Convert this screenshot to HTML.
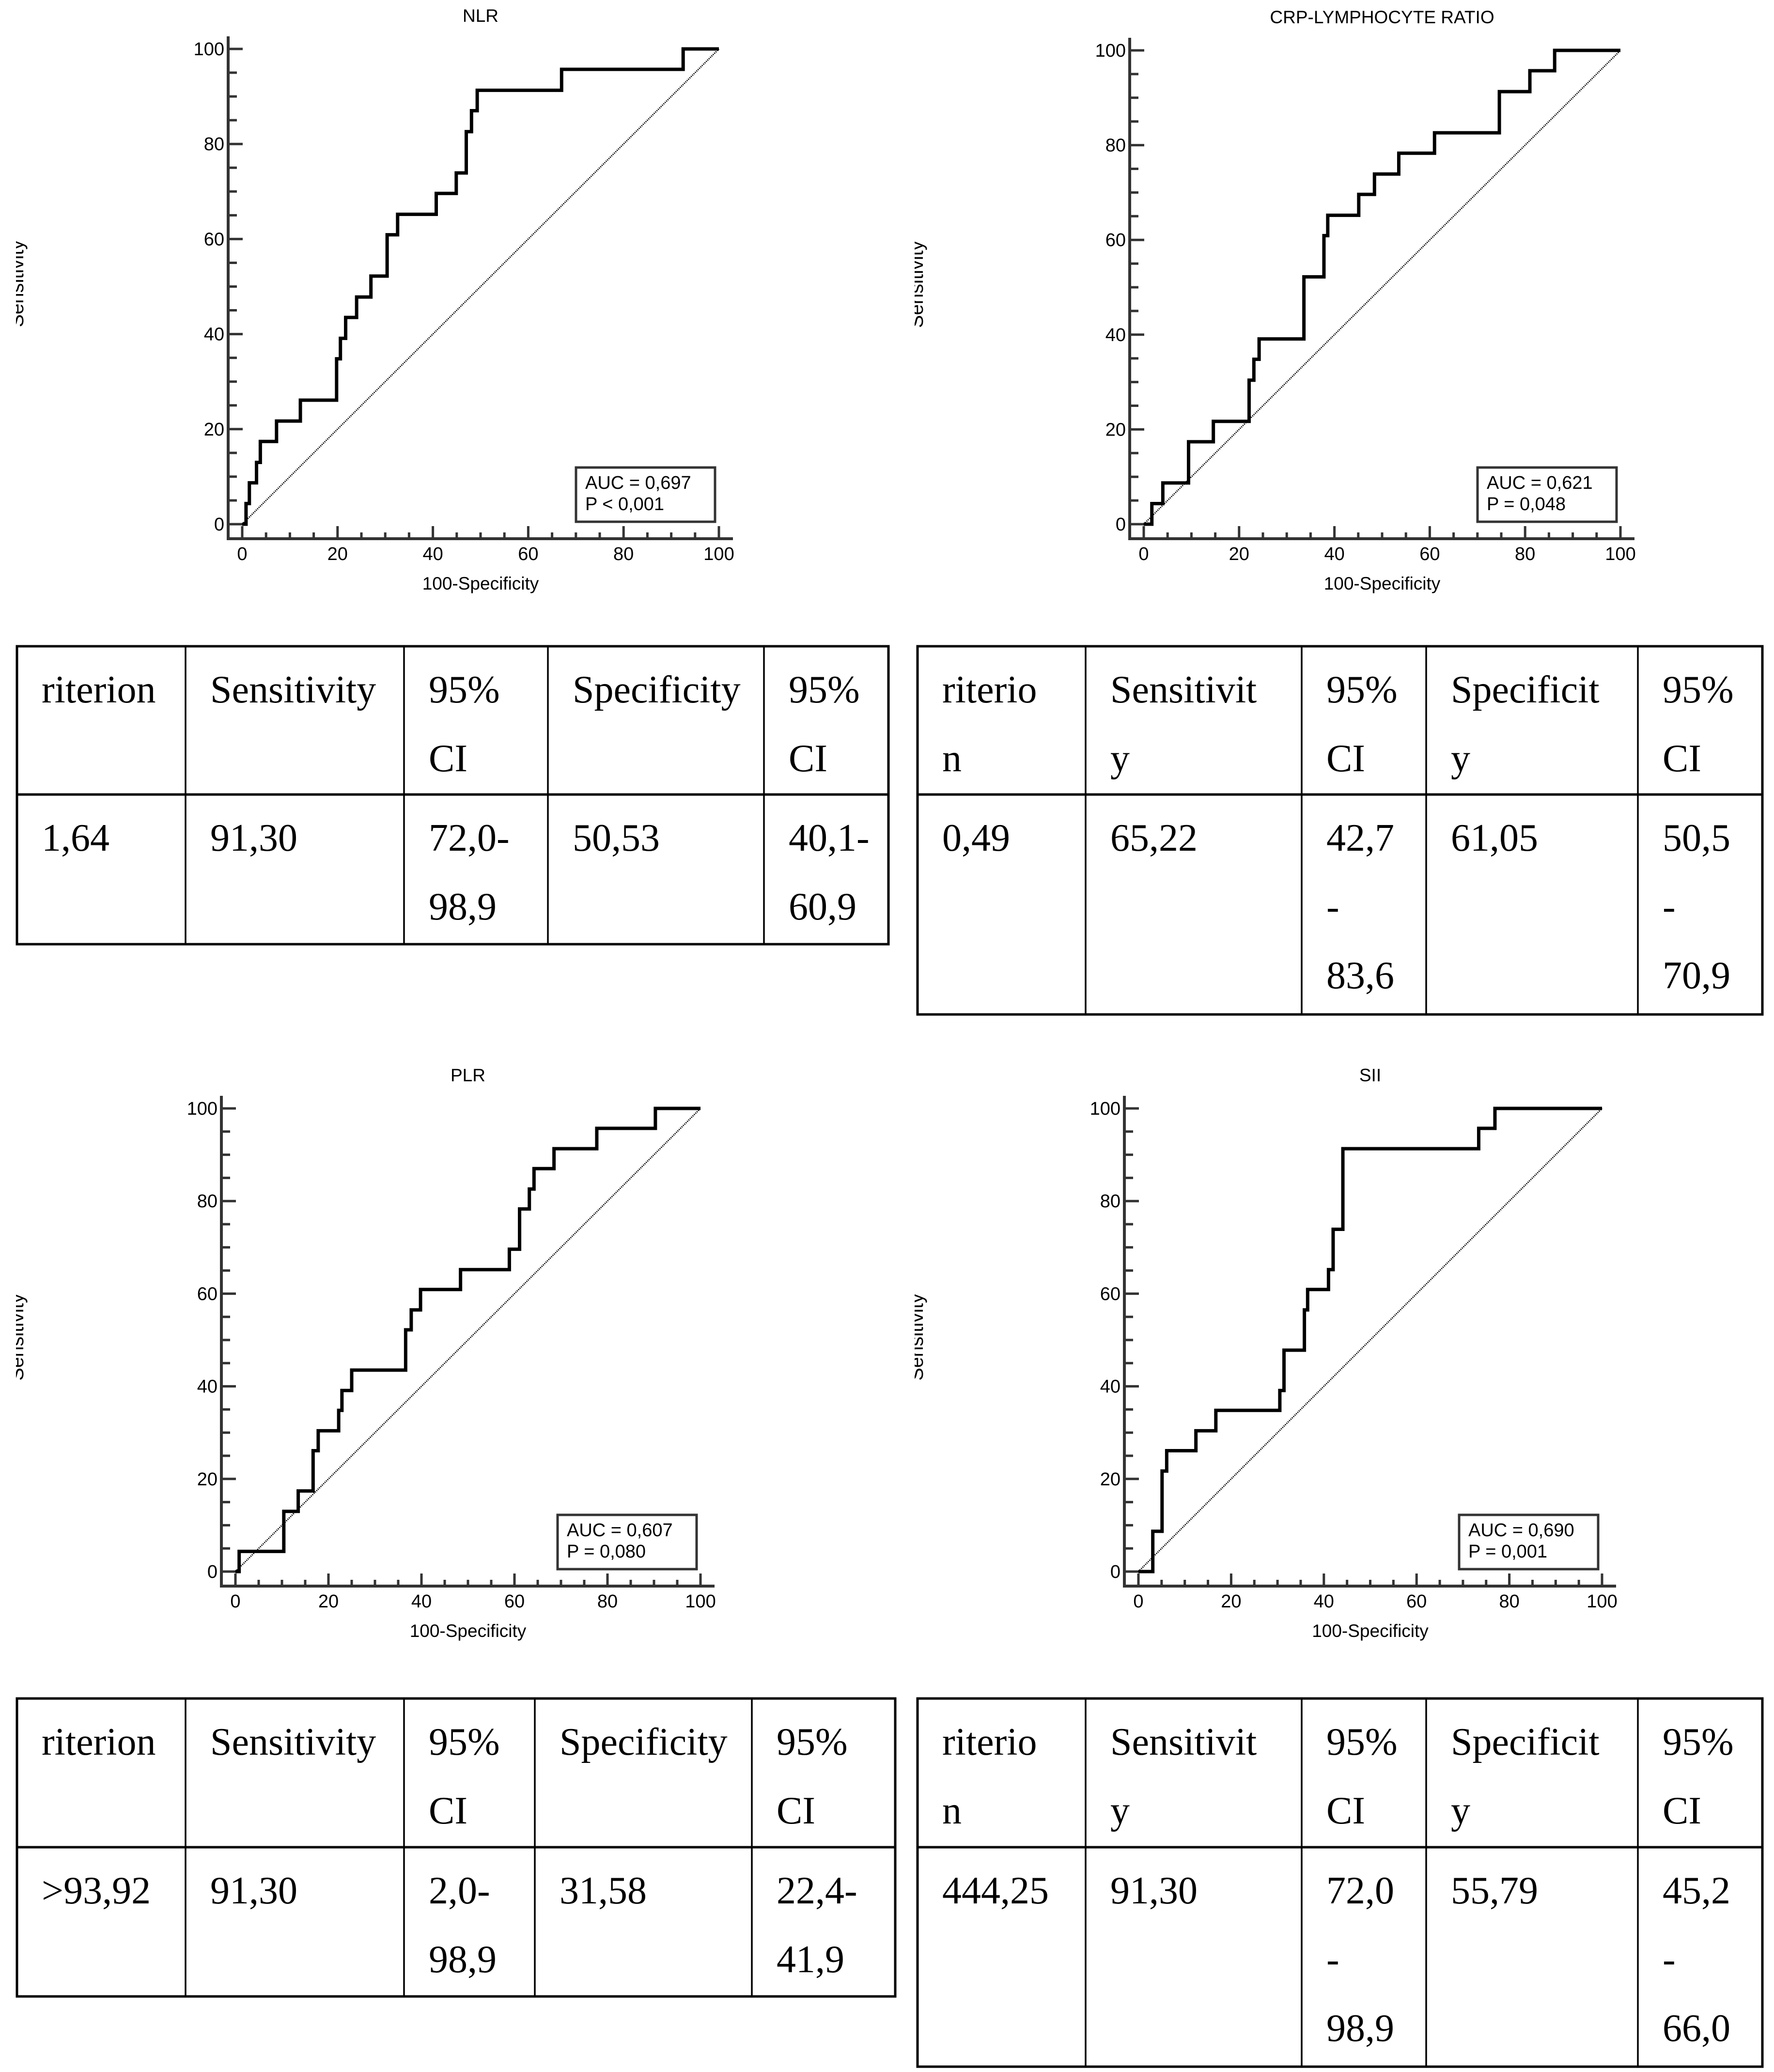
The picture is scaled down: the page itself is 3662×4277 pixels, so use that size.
<!DOCTYPE html>
<html><head><meta charset="utf-8">
<style>
html,body{margin:0;padding:0;background:#fff;}
svg{display:block;}
.tk{font-family:"Liberation Sans",Arial,sans-serif;font-size:38px;fill:#000;}
.tt{font-family:"Liberation Sans",Arial,sans-serif;font-size:37px;fill:#000;}
.tb{font-family:"Liberation Serif","Times New Roman",serif;font-size:80px;fill:#000;}
</style></head>
<body>
<svg id="root" width="3662" height="4277" viewBox="0 0 3662 4277" xmlns="http://www.w3.org/2000/svg">
<rect x="0" y="0" width="3662" height="4277" fill="#fff"/>
</svg>
<script>
// ---- chart data ----
const nlrFpr = [0.8,1.5,3.0,3.8,7.2,12.2,19.8,20.6,21.7,24.0,27.0,30.4,32.6,40.7,44.9,47.0,48.1,49.3,67.0,92.5];
const nlrSens = [4.35,8.7,13.0,17.4,21.7,26.1,34.8,39.1,43.5,47.8,52.2,60.9,65.2,69.6,73.9,82.6,87.0,91.3,95.7,100];
const crpFpr = [1.7,4.0,9.4,14.6,22.1,23.1,24.2,33.6,37.8,38.6,45.1,48.4,53.5,61.0,74.6,81.0,86.2];
const crpSens = [4.35,8.7,17.4,21.7,30.4,34.8,39.1,52.2,60.9,65.2,69.6,73.9,78.3,82.6,91.3,95.7,100];
const plrFpr = [0.8,10.4,13.5,16.7,17.8,22.2,22.9,25.0,36.6,37.8,39.8,48.4,58.9,61.1,63.2,64.2,68.5,77.7,90.3];
const plrSens = [4.35,13.0,17.4,26.1,30.4,34.8,39.1,43.5,52.2,56.5,60.9,65.2,69.6,78.3,82.6,87.0,91.3,95.7,100];
const siiFpr = [3.1,5.1,6.1,12.4,16.7,30.5,31.4,35.8,36.5,41.0,42.0,44.1,73.4,76.9];
const siiSens = [8.7,21.7,26.1,30.4,34.8,39.1,47.8,56.5,60.9,65.2,73.9,91.3,95.7,100];
const tickValues = [0,20,40,60,80,100];
const titles = ["NLR","CRP-LYMPHOCYTE RATIO","PLR","SII"];
const aucLabels = ["AUC = 0,697","AUC = 0,621","AUC = 0,607","AUC = 0,690"];
const pLabels = ["P < 0,001","P = 0,048","P = 0,080","P = 0,001"];

const NS="http://www.w3.org/2000/svg";
const root=document.getElementById('root');
function mk(tag,attrs,parent){const e=document.createElementNS(NS,tag);for(const k in attrs)e.setAttribute(k,attrs[k]);(parent||root).appendChild(e);return e;}

const layouts=[
 {x0:500,x1:1484,y0:1082,y1:101,lab:48,mask:[0,33],fpr:nlrFpr,sens:nlrSens,id:'nlr'},
 {x0:2361,x1:3345,y0:1082,y1:104,lab:1905,mask:[1700,1888],fpr:crpFpr,sens:crpSens,id:'crp'},
 {x0:486,x1:1446,y0:3244,y1:2288,lab:48,mask:[0,33],fpr:plrFpr,sens:plrSens,id:'plr'},
 {x0:2350,x1:3307,y0:3244,y1:2288,lab:1905,mask:[1700,1888],fpr:siiFpr,sens:siiSens,id:'sii'}
];

layouts.forEach((L,i)=>{
 const g=mk('g',{});
 
 
 const sx=v=>L.x0+(L.x1-L.x0)*v/100;
 const sy=v=>L.y0-(L.y0-L.y1)*v/100;
 const axL=L.x0-29, axB=L.y0+30;
 const t=mk('text',{x:(L.x0+L.x1)/2,y:L.y1-56,'text-anchor':'middle',class:'tt'},g);
 t.textContent=titles[i];
 
 
 const yl=mk('text',{x:0,y:0,'text-anchor':'middle',class:'tt',style:'font-size:40px',transform:`translate(${L.lab},${(L.y0+L.y1)/2-6}) rotate(-90)`},g);
 yl.textContent='Sensitivity';
 
 
 mk('rect',{x:L.mask[0],y:(L.y0+L.y1)/2-150,width:L.mask[1]-L.mask[0],height:300,fill:'#fff'},g);
 const ax=mk('path',{d:`M${axL},${L.y1-26} V${axB} H${L.x1+29}`,fill:'none',stroke:'#333','stroke-width':6},g);
 
 
 for(let v=0;v<=100;v+=5){
  const major=v%20===0;
  mk('line',{x1:sx(v),x2:sx(v),y1:axB,y2:axB-(major?26:13),stroke:'#333','stroke-width':5},g);
  mk('line',{x1:axL,x2:axL+(major?30:18),y1:sy(v),y2:sy(v),stroke:'#333','stroke-width':5},g);
 }
 tickValues.forEach(v=>{
  const a=mk('text',{x:sx(v),y:axB+44,'text-anchor':'middle',class:'tk'},g);a.textContent=v;
  
  
  const b=mk('text',{x:axL-8,y:sy(v)+13,'text-anchor':'end',class:'tk'},g);b.textContent=v;
  
  
 });
 const xt=mk('text',{x:(L.x0+L.x1)/2,y:L.y0+135,'text-anchor':'middle',class:'tt'},g);
 xt.textContent='100-Specificity';
 
 
 const dg=mk('line',{x1:sx(0),y1:sy(0),x2:sx(100),y2:sy(100),stroke:'#000','stroke-width':3,'stroke-dasharray':'2 2'},g);
 
 
 let d=`M${sx(0)},${sy(0)}`;
 L.fpr.forEach((f,k)=>{d+=` H${sx(f)} V${sy(L.sens[k])}`;});
 d+=` H${sx(100)}`;
 const c=mk('path',{d:d,fill:'none',stroke:'#000','stroke-width':7,'stroke-linejoin':'miter'},g);
 
 
 const bw=287,bh=112;
 const bx=sx(100)-8-bw, by=sy(0)-5-bh;
 const box=mk('rect',{x:bx,y:by,width:bw,height:bh,fill:'#fff',stroke:'#333','stroke-width':5},g);
 
 
 const t1=mk('text',{x:bx+19,y:by+44,class:'tk'},g);t1.textContent=aucLabels[i];
 
 
 const t2=mk('text',{x:bx+19,y:by+88,class:'tk'},g);t2.textContent=pLabels[i];
 
 
});

const tables=[
 {id:'nlr',x:[35,383,834,1131,1577,1834],top:1334,mid:1640,bot:1949,
  head:[["riterion"],["Sensitivity"],["95%","CI"],["Specificity"],["95%","CI"]],
  body:[["1,64"],["91,30"],["72,0-","98,9"],["50,53"],["40,1-","60,9"]]},
 {id:'crp',x:[1894,2241,2687,2944,3381,3638],top:1334,mid:1640,bot:2094,
  head:[["riterio","n"],["Sensitivit","y"],["95%","CI"],["Specificit","y"],["95%","CI"]],
  body:[["0,49"],["65,22"],["42,7","-","83,6"],["61,05"],["50,5","-","70,9"]]},
 {id:'plr',x:[35,383,834,1104,1552,1848],top:3506,mid:3813,bot:4121,
  head:[["riterion"],["Sensitivity"],["95%","CI"],["Specificity"],["95%","CI"]],
  body:[[">93,92"],["91,30"],["2,0-","98,9"],["31,58"],["22,4-","41,9"]]},
 {id:'sii',x:[1894,2241,2687,2944,3381,3638],top:3506,mid:3813,bot:4266,
  head:[["riterio","n"],["Sensitivit","y"],["95%","CI"],["Specificit","y"],["95%","CI"]],
  body:[["444,25"],["91,30"],["72,0","-","98,9"],["55,79"],["45,2","-","66,0"]]}
];
tables.forEach(T=>{
 const g=mk('g',{});
 
 
 const X=T.x;
 mk('rect',{x:X[0],y:T.top,width:X[5]-X[0],height:T.bot-T.top,fill:'none',stroke:'#000','stroke-width':5},g);
 mk('line',{x1:X[0],x2:X[5],y1:T.mid,y2:T.mid,stroke:'#000','stroke-width':5},g);
 for(let k=1;k<5;k++) mk('line',{x1:X[k],x2:X[k],y1:T.top,y2:T.bot,stroke:'#000','stroke-width':3.5},g);
 [[T.head,T.top],[T.body,T.mid]].forEach(([rows,ty])=>{
  rows.forEach((lines,k)=>{
   lines.forEach((s,j)=>{
    const tx=mk('text',{x:X[k]+51,y:ty+116+j*142,class:'tb'},g);
    tx.textContent=s;
    
    
   });
  });
 });
});
</script>
</body></html>
